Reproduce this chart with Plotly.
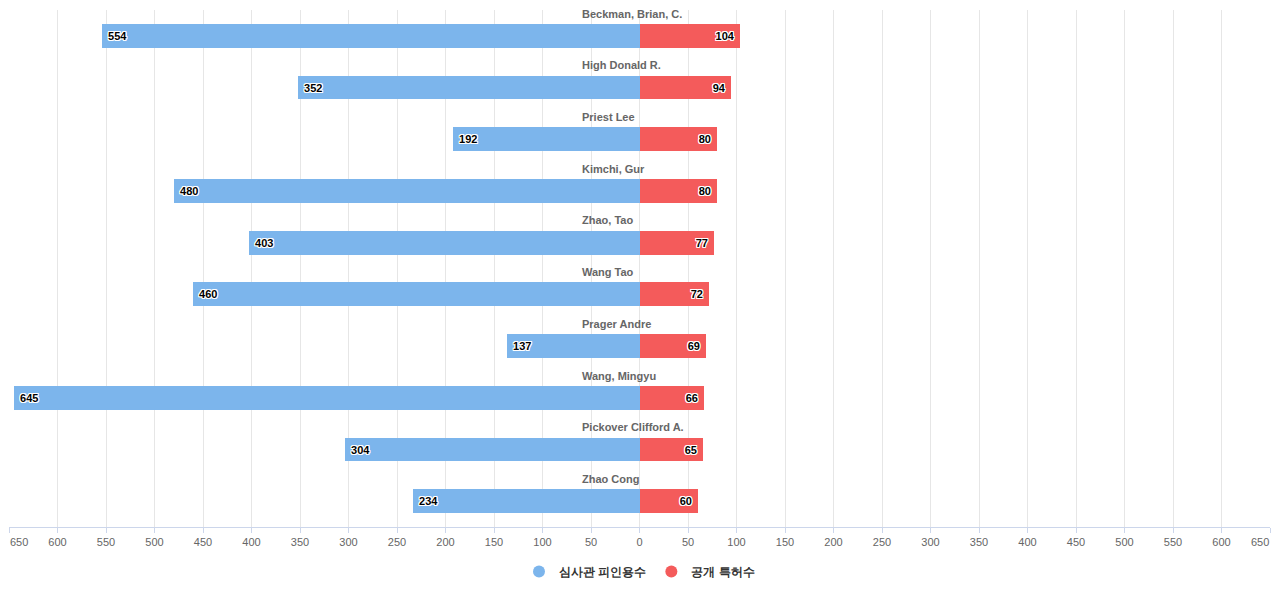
import plotly.graph_objects as go

names = ["Beckman, Brian, C.", "High Donald R.", "Priest Lee", "Kimchi, Gur", "Zhao, Tao",
         "Wang Tao", "Prager Andre", "Wang, Mingyu", "Pickover Clifford A.", "Zhao Cong"]
examiner_cites = [554, 352, 192, 480, 403, 460, 137, 645, 304, 234]
published = [104, 94, 80, 80, 77, 72, 69, 66, 65, 60]
series_names = ["심사관 피인용수", "공개 특허수"]
colors = ["#7cb5ec", "#f45b5b"]
tick_values = list(range(-650, 651, 50))
tick_labels = [str(abs(v)) for v in tick_values]

NB = "\u00a0"
FONT = "Liberation Sans, Arial, Helvetica, sans-serif"
shadow = "1px 1px 0 #fff, -1px -1px 0 #fff, 1px -1px 0 #fff, -1px 1px 0 #fff, 0 1px 0 #fff, 0 -1px 0 #fff, 1px 0 0 #fff, -1px 0 0 #fff"
rows = list(range(len(names)))

# edge labels are drawn as annotations aligned inward (like the reference)
tick_text = list(tick_labels)
tick_text[0] = ""
tick_text[-1] = ""

fig = go.Figure()
for vals, sign, color, tmpl in [(examiner_cites, -1, colors[0], NB + "%{text}"),
                                (published, 1, colors[1], "%{text}" + NB)]:
    fig.add_trace(go.Bar(
        y=rows, x=[sign * v for v in vals], orientation="h", showlegend=False,
        marker=dict(color=color, line=dict(width=0)), width=0.46,
        text=[str(v) for v in vals], texttemplate=tmpl,
        textposition="inside", insidetextanchor="end",
        textfont=dict(family=FONT, size=11, color="#000", weight="bold", shadow=shadow),
        textangle=0, hoverinfo="skip"))

for name, color in zip(series_names, colors):
    fig.add_trace(go.Scatter(x=[None], y=[None], mode="markers", name=name,
                             marker=dict(symbol="circle", size=12, color=color)))

for i, n in enumerate(names):
    fig.add_annotation(x=-61, y=i - 0.43, text=n, showarrow=False, xanchor="left", yanchor="middle",
                       font=dict(family=FONT, size=11, color="#666", weight="bold"))

for idx, anchor in [(0, "left"), (-1, "right")]:
    fig.add_annotation(x=tick_values[idx], xref="x", y=0, yref="paper", yshift=-15,
                       text=tick_labels[idx], showarrow=False, xanchor=anchor, yanchor="middle",
                       font=dict(family=FONT, size=11, color="#666"), borderpad=0)

fig.update_layout(
    width=1272, height=592, barmode="overlay", bargap=0,
    paper_bgcolor="#fff", plot_bgcolor="#fff",
    margin=dict(l=1, r=10, t=2, b=73, autoexpand=False),
    font=dict(family=FONT, color="#666"),
    xaxis=dict(range=[-650, 650], tickvals=tick_values, ticktext=tick_text,
               showgrid=True, gridcolor="#e6e6e6", gridwidth=1, zeroline=False,
               showline=True, linecolor="#ccd6eb", ticks="outside", ticklen=5, tickcolor="#ccd6eb",
               tickfont=dict(size=11, color="#666"), ticklabeloverflow="allow",
               automargin=False, fixedrange=True),
    yaxis=dict(range=[9.5, -0.5], showticklabels=False, showgrid=False, zeroline=False,
               showline=False, automargin=False, fixedrange=True),
    legend=dict(orientation="h", x=0.5, xanchor="center", y=-0.058, yanchor="top",
                font=dict(size=12, color="#333", weight="bold"), itemwidth=30, tracegroupgap=0),
    showlegend=True,
)
fig.write_html("out.html")
